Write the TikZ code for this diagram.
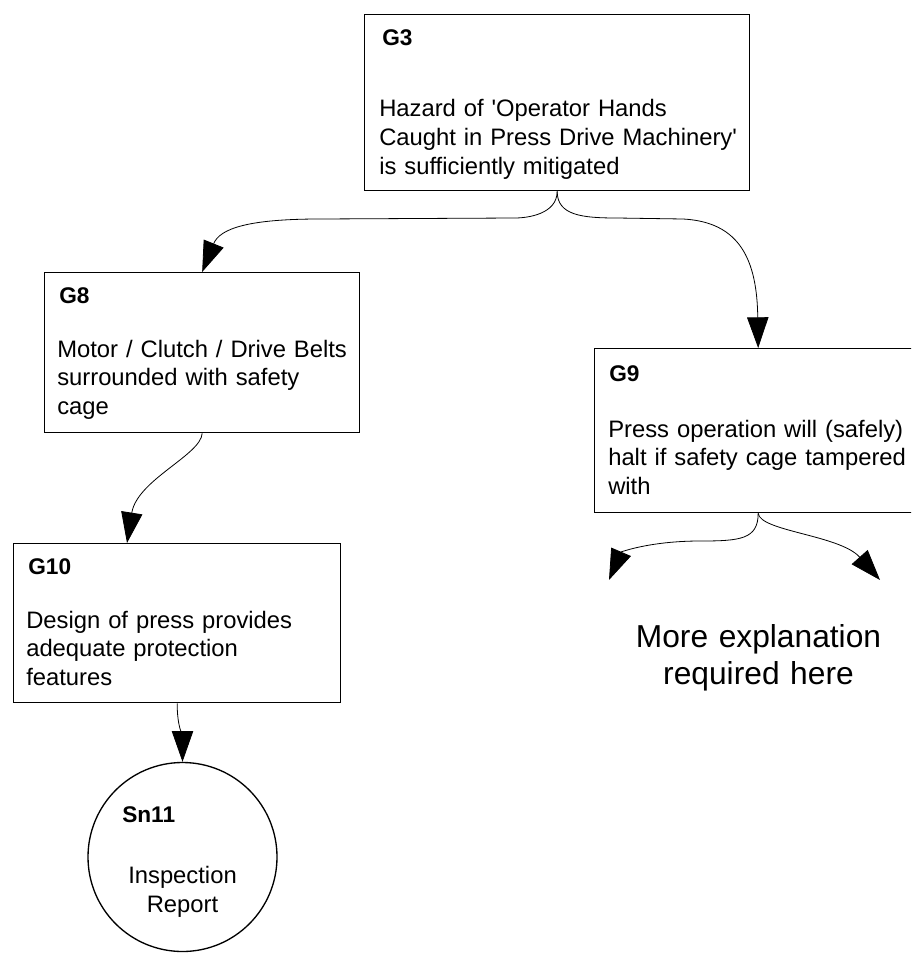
\documentclass[tikz,border=0pt]{standalone}
\usepackage{fontspec}
\setmainfont{Liberation Sans}
\usetikzlibrary{arrows.meta, calc}

\begin{document}
\begin{tikzpicture}[
    x=0.75pt, y=-0.75pt,
    goal/.style={rectangle, draw, line width=1pt, anchor=north west, inner sep=0pt},
    solution/.style={circle, draw, line width=1pt, minimum size=141.75pt, inner sep=0pt},
    gid/.style={font=\fontsize{17pt}{20pt}\selectfont\bfseries, anchor=base west, inner sep=0pt},
    gtext/.style={font=\fontsize{17.85pt}{21.5pt}\selectfont, anchor=base west, inner sep=0pt,
                  text width=280pt, align=left},
    stext/.style={font=\fontsize{17.85pt}{21.5pt}\selectfont, anchor=base, inner sep=0pt,
                  text width=120pt, align=center},
    note/.style={font=\fontsize{23.8pt}{27.4pt}\selectfont, anchor=base, inner sep=0pt,
                 text width=250pt, align=center},
    arrow/.style={-{Triangle[length=23pt, width=16pt]}, line width=0.6pt}
]
\path[use as bounding box, clip] (0,0) rectangle (911,956);

% goals and solution
\node[goal, minimum width=288.75pt, minimum height=132pt]    (G3)  at (364,14)  {};
\node[goal, minimum width=236.25pt, minimum height=120pt]    (G8)  at (44,272)  {};
\node[goal, minimum width=245.25pt, minimum height=123pt]    (G9)  at (594,348) {};
\node[goal, minimum width=245.25pt, minimum height=119.25pt] (G10) at (13,543)  {};
\node[solution] (Sn11) at (182.5,857) {};

\node[gid]   (G3id)  at ($(G3.north west)+(18,32)$)  {G3};
\node[gtext] (G3txt) at ($(G3.north west)+(15,103)$) {Hazard of \textquotesingle Operator Hands\\Caught in Press Drive Machinery\textquotesingle\\is sufficiently mitigated};
\node[gid]   (G8id)  at ($(G8.north west)+(15,31)$)  {G8};
\node[gtext] (G8txt) at ($(G8.north west)+(13,85)$)  {Motor / Clutch / Drive Belts\\surrounded with safety\\cage};
\node[gid]   (G9id)  at ($(G9.north west)+(15,33)$)  {G9};
\node[gtext] (G9txt) at ($(G9.north west)+(14,89)$)  {Press operation will (safely)\\halt if safety cage tampered\\with};
\node[gid]   (G10id)  at ($(G10.north west)+(15,31)$) {G10};
\node[gtext] (G10txt) at ($(G10.north west)+(13,85)$) {Design of press provides\\adequate protection\\features};
\node[gid]   (Sn11id)  at ($(Sn11.center)+(-60.5,-35)$) {Sn11};
\node[stext] (Sn11txt) at ($(Sn11.center)+(0,26.5)$)    {Inspection\\Report};

\node[note] (more) at (758.5,647.5) {More explanation\\required here};

% connectors
\draw[arrow] (G3.south) .. controls +(0,23) and +(12,0) .. (515,218) -- (320,219)
             .. controls (250,219) and (220,228) .. (G8.north);
\draw[arrow] (G3.south) .. controls +(0,24) and +(-35,0) .. (617,218) -- (683,219)
             .. controls (740,222) and (757,260) .. (G9.north);
\draw[arrow] (G8.south) .. controls (201,455) and (137,480) .. ($(G10.north west)+(114,0)$);
\draw[arrow] (G10.south) .. controls +(0,23) and +(0,-25) .. (Sn11.north);

\coordinate (m1) at (609,580);
\coordinate (m2) at (880,580);
\draw[arrow] (G9.south) .. controls +(0,26) and +(40,0) .. (700,541)
             .. controls (650,541) and (621,552) .. (m1);
\draw[arrow] (G9.south) .. controls +(2,18) and (840,535) .. (m2);

\end{tikzpicture}
\end{document}
